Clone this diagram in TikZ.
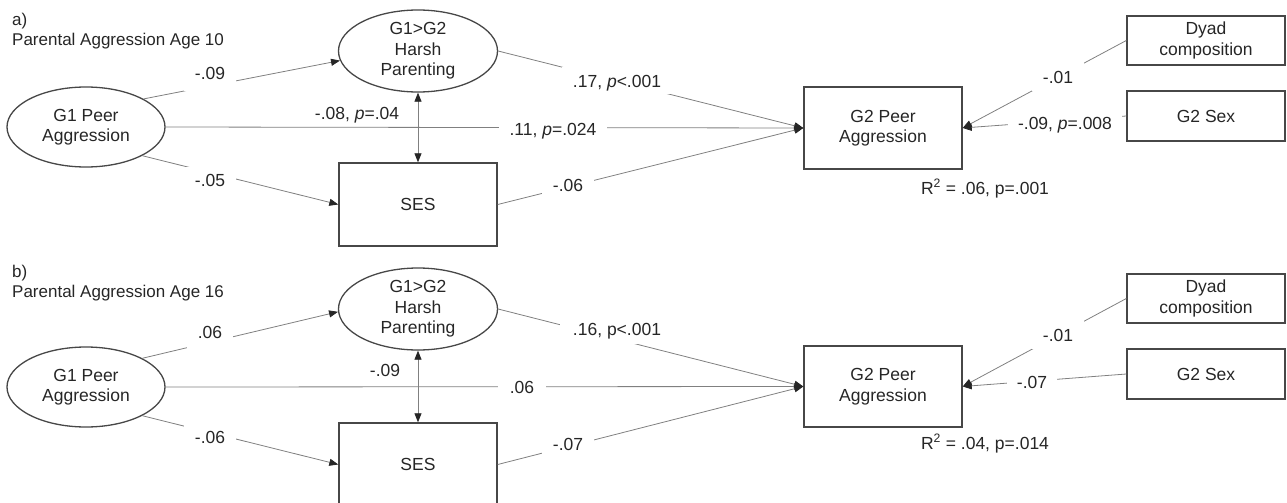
\documentclass[tikz,border=0pt]{standalone}
\usepackage{fontspec}
\setmainfont{Liberation Sans}
\usetikzlibrary{arrows.meta,shapes.geometric}
\tikzset{
  ell/.style={ellipse, draw=black!72, line width=1.3pt, inner sep=0pt},
  box/.style={rectangle, draw=black!72, line width=1.4pt, minimum width=158pt, inner sep=0pt},
  conn/.style={draw=black!50, line width=0.8pt},
  tip/.tip={Triangle[length=9pt,width=7pt,color=black!85]},
  arr/.style={conn, -tip},
  darr/.style={conn, tip-tip},
  lab/.style 2 args={anchor=base, fill=white, inner xsep=11pt, inner ysep=0pt, text height=#1, text depth=#2},
  plain/.style={anchor=base, inner sep=0pt},
  head/.style={anchor=west, inner sep=0pt, font=\fontsize{17}{20}\selectfont},
}
\begin{document}
\begin{tikzpicture}[x=1pt,y=-1pt,
  every node/.append style={font=\fontsize{17.5}{20.5}\selectfont, text=black!85, align=center}]
\useasboundingbox (0,0) rectangle (1287,503);

% ---------------- panel a ----------------
\node[head] (ta) at (12,21) {a)};
\node[head] (pa) at (12,41) {Parental Aggression Age 10};

\node[ell, minimum width=158pt, minimum height=80pt] (g1a) at (86,127) {G1 Peer\\Aggression};
\node[ell, minimum width=159pt, minimum height=82pt] (hpa) at (418,51) {G1>G2\\Harsh\\Parenting};
\node[box, minimum height=83pt] (sesa) at (418,204.5) {SES};
\node[box, minimum height=82pt] (g2a) at (883,128) {G2 Peer\\Aggression};
\node[box, minimum height=49pt] (dya) at (1206,40.5) {Dyad\\composition};
\node[box, minimum height=50pt] (sxa) at (1206,116) {G2 Sex};

\draw[arr] (g1a.26) -- (hpa.187);
\draw[arr] (g1a.-27) -- (sesa.west);
\draw[arr] (g1a.east) -- (g2a.west);
\draw[arr] (hpa.east) -- (g2a.west);
\draw[arr] (sesa.east) -- (g2a.west);
\draw[darr] (hpa.south) -- (sesa.north);
\draw[arr] (dya.west) -- (g2a.east);
\draw[arr] (sxa.west) -- (g2a.east);

\node[lab={14pt}{12pt}] (l1a) at (210,79) {-.09};
\node[lab={19pt}{2pt}] (l2a) at (210,186) {-.05};
\node[plain] (l3a) at (357,119) {-.08, \textit{p}=.04};
\node[lab={21pt}{6pt}] (l4a) at (617,88) {.17, \textit{p}<.001};
\node[lab={14pt}{5pt}] (l5a) at (553,135) {.11, \textit{p}=.024};
\node[lab={13pt}{4pt}] (l6a) at (568,191) {-.06};
\node[lab={21pt}{8pt}] (l7a) at (1058,83) {-.01};
\node[lab={15pt}{5pt}, inner xsep=10pt] (l8a) at (1065,129) {-.09, \textit{p}=.008};
\node[plain] (r2a) at (985,194) {R\textsuperscript{2} = .06, p=.001};

% ---------------- panel b ----------------
\node[head] (tb) at (12,273) {b)};
\node[head] (pb) at (12,293) {Parental Aggression Age 16};

\node[ell, minimum width=158pt, minimum height=80pt] (g1b) at (86,387) {G1 Peer\\Aggression};
\node[ell, minimum width=159pt, minimum height=82pt] (hpb) at (418,309) {G1>G2\\Harsh\\Parenting};
\node[box, minimum height=83pt] (sesb) at (418,464.5) {SES};
\node[box, minimum height=81pt] (g2b) at (883,386.5) {G2 Peer\\Aggression};
\node[box, minimum height=49pt] (dyb) at (1206,298.5) {Dyad\\composition};
\node[box, minimum height=50pt] (sxb) at (1206,374) {G2 Sex};

\draw[arr] (g1b.27) -- (hpb.182);
\draw[arr] (g1b.-27) -- (sesb.west);
\draw[arr] (g1b.east) -- (g2b.west);
\draw[arr] (hpb.east) -- (g2b.west);
\draw[arr] (sesb.east) -- (g2b.west);
\draw[darr] (hpb.south) -- (sesb.north);
\draw[arr] (dyb.west) -- (g2b.east);
\draw[arr] (sxb.west) -- (g2b.east);

\node[lab={14pt}{12pt}] (l1b) at (210,338) {.06};
\node[lab={18pt}{2pt}] (l2b) at (210,443) {-.06};
\node[plain] (l3b) at (385,376) {-.09};
\node[lab={14pt}{9pt}, inner xsep=13pt] (l4b) at (617,335) {.16, p<.001};
\node[lab={14pt}{4pt}, inner xsep=12pt] (l5b) at (522,393) {.06};
\node[lab={13pt}{4pt}] (l6b) at (568,450) {-.07};
\node[lab={21pt}{8pt}] (l7b) at (1058,341) {-.01};
\node[lab={14pt}{5pt}, inner xsep=10pt] (l8b) at (1032,388) {-.07};
\node[plain] (r2b) at (985,449) {R\textsuperscript{2} = .04, p=.014};
\end{tikzpicture}
\end{document}
